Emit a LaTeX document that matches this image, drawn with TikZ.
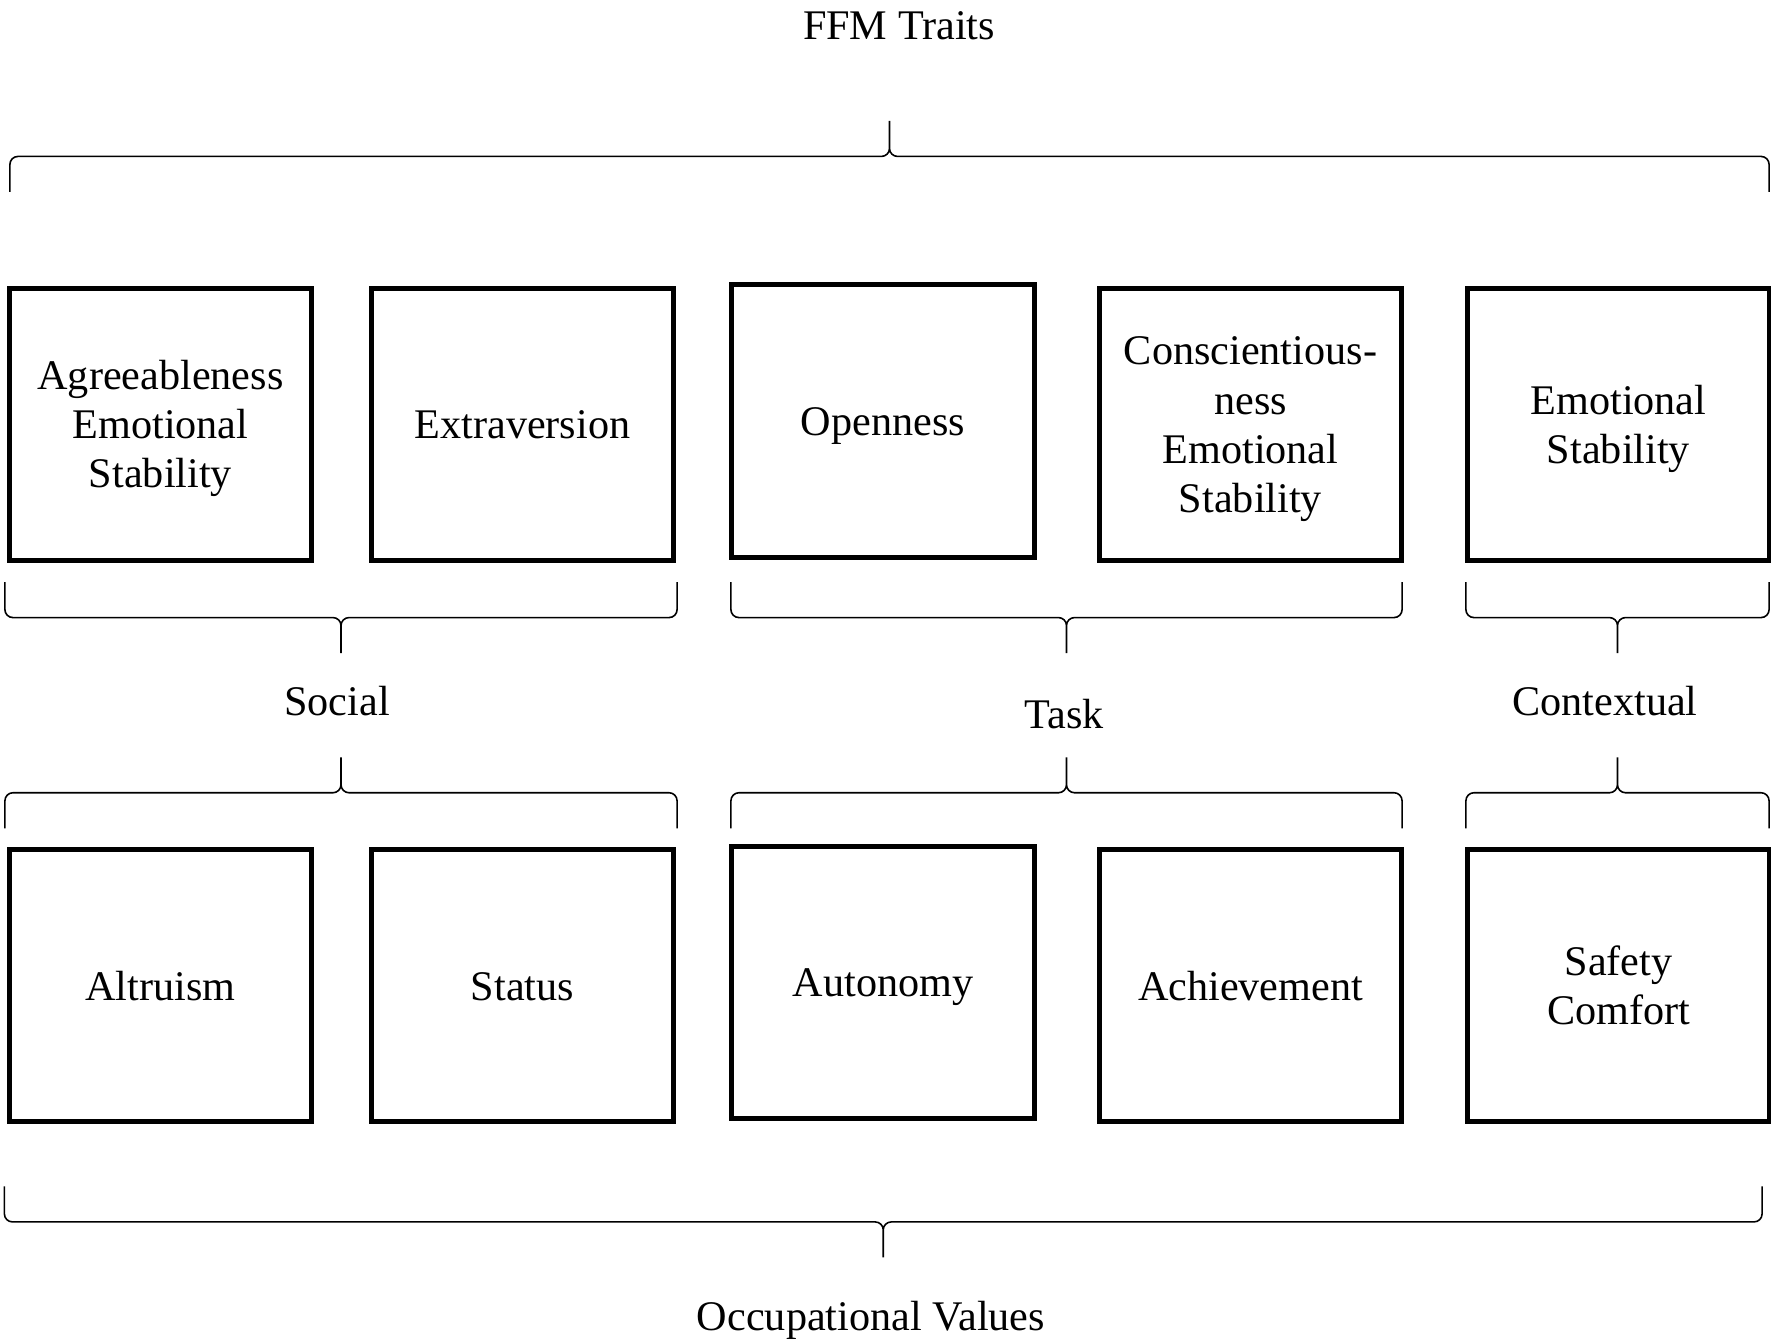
\documentclass[tikz,border=0pt]{standalone}
\usepackage{fontspec}
\setmainfont{Liberation Serif}
\usetikzlibrary{calc}
\usetikzlibrary{positioning}

\newcommand{\cellstrut}{\rule[-2.6pt]{0pt}{13.3pt}}

\begin{document}
\begin{tikzpicture}[x=0.01cm,y=-0.01cm,
    font=\fontsize{12}{14}\selectfont,
    cell/.style={draw,line width=0.5mm,minimum width=30.2mm,minimum height=27.2mm,
      align=center,inner sep=1pt},
    lbl/.style={anchor=base},
    wbrace/.style={line width=0.45pt,rounded corners=0.8mm,
      to path={-- ($(\tikztostart)+(0,#1)$)
        -- ($(\tikztostart)!.5!(\tikztotarget)+(0,#1)$)
        -- ($(\tikztostart)!.5!(\tikztotarget)+(0,{2*(#1)})$)
        ($(\tikztostart)!.5!(\tikztotarget)+(0,{2*(#1)})$)
        -- ($(\tikztostart)!.5!(\tikztotarget)+(0,#1)$)
        -- ($(\tikztotarget)+(0,#1)$) -- (\tikztotarget)}}]
  \useasboundingbox (0,0) rectangle (1771,1339);

  % traits
  \node[cell] (agree) at (160.5,424.5) {\cellstrut Agreeableness\\Emotional\\Stability\cellstrut};
  \node[cell] (extra) at (522.5,424.5) {\cellstrut Extraversion};
  \node[cell] (open) at (883,421) {\cellstrut Openness};
  \node[cell] (consc) at (1250.5,424.5) {\cellstrut Conscientious-\\ness\\Emotional\\Stability\cellstrut};
  \node[cell] (emot) at (1618.5,424.5) {\cellstrut Emotional\\Stability\cellstrut};

  % values
  \node[cell,below=28.4mm of agree] (altru) {\cellstrut Altruism};
  \node[cell,below=28.4mm of extra] (status) {\cellstrut Status};
  \node[cell,below=28.4mm of open] (auton) {\cellstrut Autonomy};
  \node[cell,below=28.4mm of consc] (achiev) {\cellstrut Achievement};
  \node[cell,below=28.4mm of emot] (safety) {\cellstrut Safety\\Comfort\cellstrut};

  \node[lbl] (ffm) at (899,39) {FFM Traits};
  \node[lbl] (social) at (337,715) {Social};
  \node[lbl] (task) at (1064,728) {Task};
  \node[lbl] (context) at (1605,715) {Contextual};
  \node[lbl] (occval) at (871,1330) {Occupational Values};

  \draw[wbrace=-35.5] ($(agree.north west)+(3,-94)$) to ($(emot.north east)+(-3,-94)$);

  \draw[wbrace=35.5] ($(agree.south west)+(-2,19)$) to ($(extra.south east)+(1,19)$);
  \draw[wbrace=35.5] ($(open.south west |- agree.south)+(1.5,19)$) to ($(consc.south east)+(-2,19)$);
  \draw[wbrace=35.5] ($(emot.south west)+(1,19)$) to ($(emot.south east)+(-3,19)$);

  \draw[wbrace=-35.5] ($(altru.north west)+(-2,-19)$) to ($(status.north east)+(1,-19)$);
  \draw[wbrace=-35.5] ($(auton.north west |- altru.north)+(1.5,-19)$) to ($(achiev.north east)+(-2,-19)$);
  \draw[wbrace=-35.5] ($(safety.north west)+(1,-19)$) to ($(safety.north east)+(-3,-19)$);

  \draw[wbrace=35.5] ($(altru.south west)+(-2.5,62)$) to ($(safety.south east)+(-10,62)$);
\end{tikzpicture}
\end{document}
